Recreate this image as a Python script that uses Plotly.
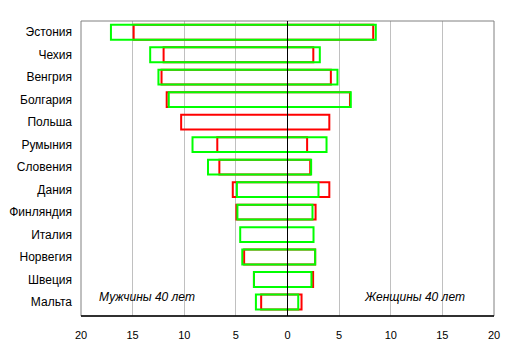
import plotly.graph_objects as go

countries = ["Эстония", "Чехия", "Венгрия", "Болгария", "Польша", "Румыния", "Словения",
             "Дания", "Финляндия", "Италия", "Норвегия", "Швеция", "Мальта"]
# red series (men on the left, women on the right)
red_men = [14.9, 12.0, 12.2, 11.7, 10.3, 6.8, 6.6, 5.3, 4.95, None, 4.2, 3.25, 2.55]
red_women = [8.3, 2.5, 4.2, 6.05, 4.05, 1.9, 2.2, 4.05, 2.72, None, 2.68, 2.48, 1.36]
# green series
green_men = [17.1, 13.3, 12.5, 11.5, None, 9.2, 7.7, 4.9, 4.85, 4.58, 4.38, 3.25, 3.06]
green_women = [8.55, 3.13, 4.84, 6.13, None, 3.78, 2.29, 3.0, 2.42, 2.52, 2.68, 2.32, 1.04]

tickvals = [-20, -15, -10, -5, 0, 5, 10, 15, 20]
ticktext = ["20", "15", "10", "5", "0", "5", "10", "15", "20"]

RED = "#ff0000"
GREEN = "#00ff00"
FONT = "Arial, Liberation Sans, sans-serif"


def span(men, women):
    base, length = [], []
    for m, w in zip(men, women):
        if m is None or w is None:
            base.append(None)
            length.append(None)
        else:
            base.append(-m)
            length.append(m + w)
    return base, length


fig = go.Figure()
for men, women, col in [(red_men, red_women, RED), (green_men, green_women, GREEN)]:
    b, l = span(men, women)
    fig.add_trace(go.Bar(
        y=countries, x=l, base=b, orientation="h", width=0.66,
        marker=dict(color="rgba(0,0,0,0)", line=dict(color=col, width=2)),
        showlegend=False, hoverinfo="skip",
    ))

# the page body has an 8px margin, so the figure is sized/placed to compensate
fig.update_layout(
    width=505, height=342,
    margin=dict(l=73, r=19, t=13, b=34),
    barmode="overlay",
    plot_bgcolor="white", paper_bgcolor="white",
    font=dict(family=FONT, size=12, color="black"),
    xaxis=dict(range=[-20, 20], tickvals=tickvals, ticktext=ticktext,
               showgrid=True, gridcolor="#c0c0c0", gridwidth=1,
               zeroline=False,
               showline=False, automargin=False,
               ticks="", ticklabelstandoff=11, tickfont=dict(size=11)),
    yaxis=dict(categoryorder="array", categoryarray=countries, autorange="reversed",
               showgrid=False, zeroline=False, showline=False, automargin=False,
               ticks="", ticklabelstandoff=8, tickfont=dict(size=12)),
    shapes=[
        dict(type="rect", xref="paper", yref="paper", x0=0, x1=1, y0=0, y1=1,
             line=dict(color="#808080", width=1), layer="above"),
        dict(type="line", xref="paper", yref="paper", x0=0, x1=1, y0=0, y1=0,
             line=dict(color="black", width=1.5), layer="above"),
        dict(type="line", xref="x", yref="paper", x0=0, x1=0, y0=0, y1=1,
             line=dict(color="black", width=1), layer="above"),
    ],
    annotations=[
        dict(text="<i>Мужчины 40 лет</i>", x=-13.6, y=12, xref="x", yref="y", showarrow=False,
             font=dict(size=12, color="black", family=FONT), xanchor="center", yanchor="middle",
             yshift=5),
        dict(text="<i>Женщины 40 лет</i>", x=12.3, y=12, xref="x", yref="y", showarrow=False,
             font=dict(size=12, color="black", family=FONT), xanchor="center", yanchor="middle",
             yshift=5),
    ],
)

fig.write_html("out.html")
